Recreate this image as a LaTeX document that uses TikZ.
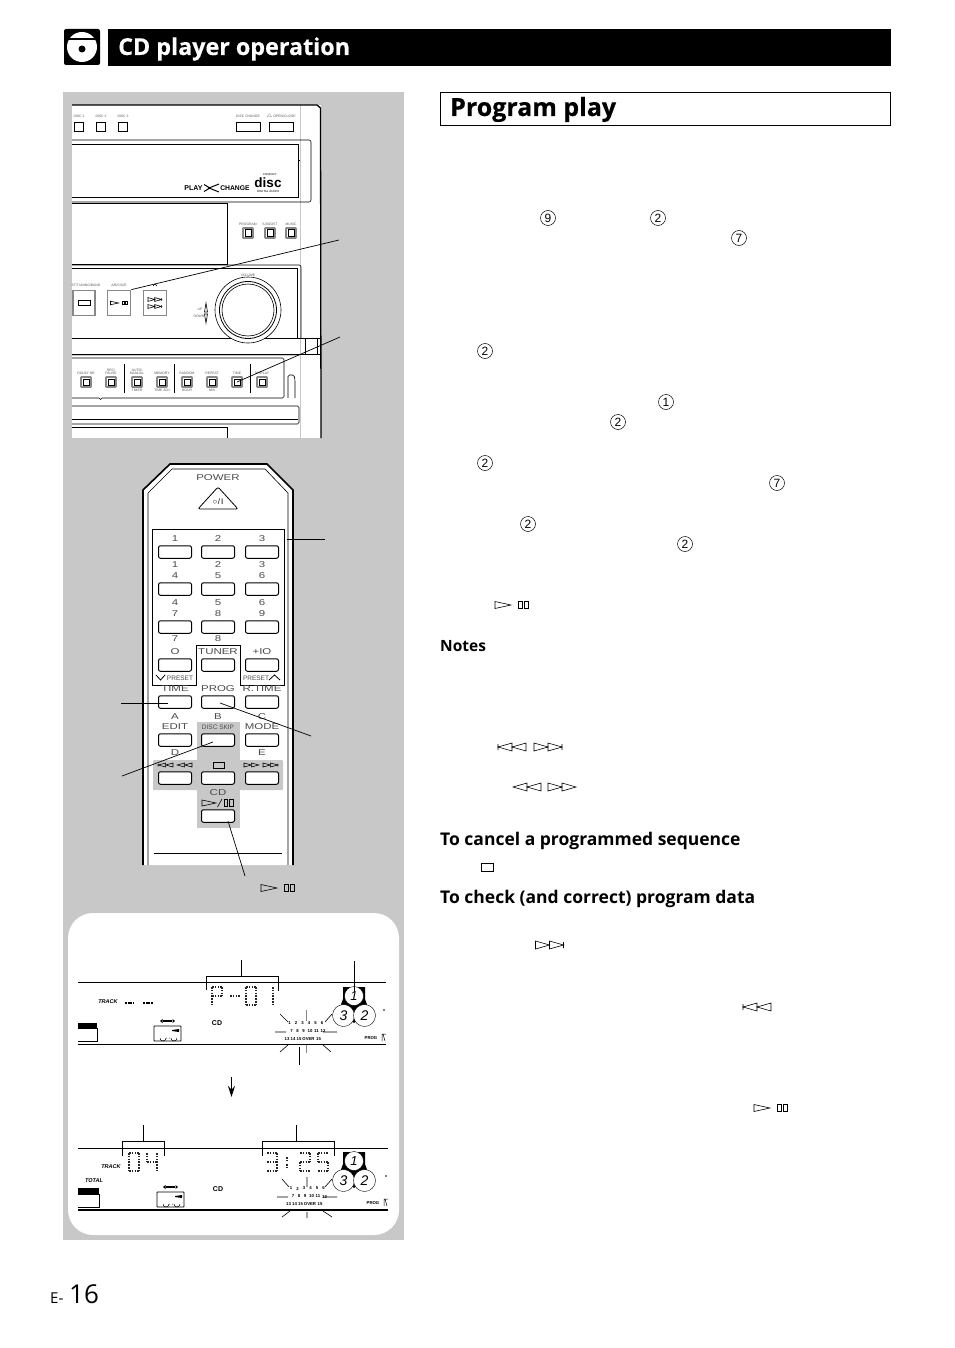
\documentclass[tikz,border=0pt]{standalone}
\usepackage{fontspec}
\setmainfont{Open Sans}
\newfontfamily\heavyfont[BoldFeatures={FakeBold=0.4}]{Open Sans}
\newfontfamily\panelfont[FakeStretch=1.35]{Liberation Sans}
\newfontfamily\plainfont{Liberation Sans}
\usetikzlibrary{shapes.geometric, arrows.meta, positioning}
\definecolor{cPanel}{RGB}{200,200,200}
\definecolor{cEdge}{RGB}{135,135,135}
\definecolor{cLabel}{RGB}{90,90,90}
\newcommand{\pxfont}[1]{\fontsize{#1}{#1}\selectfont}
\tikzset{
	x=1pt, y=-1pt,
	headtext/.style ={anchor=base west, font=\heavyfont\bfseries\pxfont{25}, inner sep=0pt},
	subhead/.style  ={anchor=base west, font=\bfseries\pxfont{17.5}, inner sep=0pt},
	numcirc/.style  ={circle, draw=black, line width=0.5pt, minimum size=15pt, inner sep=0pt, font=\plainfont\pxfont{12}},
	symline/.style  ={line width=0.6pt, draw=black},
	leader/.style   ={line width=0.7pt, draw=black},
	hairline/.style ={line width=0.6pt, draw=black},
	devlab/.style   ={font=\plainfont\pxfont{3.4}, text=cLabel, inner sep=0pt, align=center},
	remlab/.style   ={font=\panelfont\pxfont{8.5}, text=black!70, inner sep=0pt},
	remsmall/.style ={font=\plainfont\pxfont{6.5}, text=black!70, inner sep=0pt},
	disptext/.style ={font=\plainfont\bfseries\pxfont{4.3}, inner sep=0pt},
	trackword/.style={font=\plainfont\bfseries\itshape\pxfont{5.5}, inner sep=0pt},
	remkey/.style   ={rectangle, rounded corners=2pt, draw=black, line width=1pt, fill=white, minimum width=33pt, minimum height=12.5pt, inner sep=0pt},
	devkey/.style   ={rectangle, draw=cEdge, line width=1.6pt, fill=white, minimum width=10pt, minimum height=10pt, inner sep=0pt, rounded corners=0.5pt},
	devcore/.style  ={rectangle, draw=black, line width=0.5pt, minimum width=6.5pt, minimum height=6.5pt, inner sep=0pt},
	dotline/.style  ={line width=1.5pt, dash pattern=on 1.5pt off 1.3pt, draw=black!85},
	playsym/.pic={
		\draw[symline] (0,-3.5) -- (16,0) -- (0,3.5) -- cycle;
		\draw[symline] (23,-3.5) rectangle (27,3.5) (29,-3.5) rectangle (33,3.5);
	},
	fwdsym/.pic={
		\draw[symline] (0,-4) -- (14,0) -- (0,4) -- cycle (14,-4) -- (28,0) -- (14,4) -- cycle;
	},
	skipsym/.pic={
		\draw[symline] (0,-4) -- (14,0) -- (0,4) -- cycle (14,-4) -- (28,0) -- (14,4) -- cycle (28,-3) -- (28,3);
	},
	cassette/.pic={
		\draw[line width=0.8pt, draw=black, rounded corners=0.5pt] (0,0) rectangle (27,15);
		\draw[line width=0.5pt] (6,12) arc (180:0:3) (15,12) -- (16,12) (12,12) -- (13,12);
		\draw[line width=0.5pt] (17,12) arc (180:0:3);
		\fill (18,4) -- (25,3) -- (25,6) -- (18,5) -- cycle;
		\draw[line width=0.6pt] (9,-5.5) -- (18,-5.5) (9,-4.5) -- (18,-4.5);
		\fill (6,-5) -- (8.5,-7) -- (8.5,-3) -- cycle (21,-5) -- (18.5,-7) -- (18.5,-3) -- cycle;
	},
	discstack/.pic={
		\fill (-11,-9) -- (11,-9) -- (11,3) -- (15,14) -- (0,27) -- (-15,14) -- (-11,3) -- cycle;
		\node[circle, draw=black, fill=white, minimum size=19pt, inner sep=0pt, font=\plainfont\itshape\pxfont{13}] (-top) at (0,0) {1};
		\node[circle, draw=black, fill=white, minimum size=22pt, inner sep=0pt, font=\plainfont\itshape\pxfont{14}] (-lft) at (-10.5,19.5) {3};
		\node[circle, draw=black, fill=white, minimum size=22pt, inner sep=0pt, font=\plainfont\itshape\pxfont{14}] (-rgt) at (10.5,19.5) {2};
	},
	trackgrid/.pic={
		\foreach \nm/\xx/\yy/\lab in {a/0/0/1,b/6.5/0/2,c/13/0/3,d/19.5/0/4,e/26/0/5,f/32.5/0/6,
			g/2/8/7,h/8/8/8,i/14/8/9,j/20.5/8/10,k/27/8/11,l/33.5/8/12,
			m/-2.5/16/13,n/3.5/16/14,o/9.5/16/15,p/19/16/OVER,q/29/16/15}
			\node[disptext] (-\nm) at (\xx,\yy) {\lab};
	},
}
\newcommand{\dotglyph}[3]{%
	\begin{scope}[shift={(#1,#2)}]
		\path (0,0) coordinate (tl) (10,0) coordinate (tr) (0,9) coordinate (ml) (10,9) coordinate (mr) (0,18) coordinate (bl) (10,18) coordinate (br);
		\foreach \sa/\sb in {#3} { \draw[dotline] (\sa) -- (\sb); }
	\end{scope}}

\begin{document}
\begin{tikzpicture}
	\useasboundingbox (0,0) rectangle (954,1348);
	\fill[white] (0,0) rectangle (954,1348);

	% page header
	\fill[black, rounded corners=2pt] (64,29) rectangle (100,65);
	\fill[white] (82,47) circle (15);
	\draw[line width=1.2pt] (67,39) -- (97,39);
	\fill[black] (82,49) circle (3.5);
	\fill[black] (108,29) rectangle (891,66);
	\node[headtext, text=white, font=\heavyfont\bfseries\pxfont{23.3}] (hdCd) at (118,55) {CD player operation};

	% section title
	\draw[line width=0.8pt] (440.5,92.5) rectangle (890.5,125);
	\node[headtext] (hdProg) at (450,116) {Program play};

	% grey panel
	\fill[cPanel] (63,92) rectangle (404,1240);

	% main unit
	\fill[white] (72,105) rectangle (321,438);
	\draw[cPanel, line width=1.2pt] (300.5,105) -- (300.5,438);
	\draw[line width=1.3pt] (72,105) -- (317,105) -- (320.5,108) -- (321,438);
	\foreach \nm/\xx/\lab in {a/79/DISC 1,b/101/DISC 2,c/123/DISC 3}
		\node[devlab] (dl\nm) at (\xx,116) {\lab};
	\foreach \nm/\xx in {a/79,b/101,c/123} {
		\node[rectangle, draw=black, fill=white, line width=0.7pt, minimum size=9pt, inner sep=0pt] (dk\nm) at (\xx,127) {};
	}
	\node[rectangle, draw=black, line width=0.7pt, minimum width=24pt, minimum height=9pt] (dkChange) at (248,127) {};
	\node[rectangle, draw=black, line width=0.7pt, minimum width=24pt, minimum height=9pt] (dkOpen) at (281,127) {};
	\node[devlab] (dlChange) at (248,116) {DISC CHANGE};
	\node[devlab] (dlOpen) at (281,116) {$\triangle$ OPEN/CLOSE};
	% disc tray
	\draw[line width=0.6pt, rounded corners=2pt] (72,140) -- (311,140) -- (311,202) -- (72,202);
	\draw[line width=1pt] (72,145) -- (298,145) -- (298,198) -- (72,198);
	\draw[line width=0.6pt] (298,160) -- (300,160);
	\node[font=\plainfont\bfseries\pxfont{7}, inner sep=0pt] (logoPlay) at (193.5,188) {PLAY};
	\draw[line width=1pt] (204,184.5) -- (210,188) -- (204,191.5) (219,184) -- (209,188) -- (219,192);
	\node[font=\plainfont\bfseries\pxfont{6.8}, inner sep=0pt] (logoChange) at (235,188) {CHANGE};
	\node[font=\plainfont\bfseries\pxfont{13.5}, inner sep=0pt] (logoDisc) at (268,183) {disc};
	\node[font=\plainfont\pxfont{2.8}, inner sep=0pt] (logoTop) at (270,175) {COMPACT};
	\node[font=\plainfont\pxfont{3}, inner sep=0pt] (logoBot) at (268,191.5) {DIGITAL AUDIO};
	% display window
	\draw[line width=1pt] (72,204) -- (227,204) -- (227,264) -- (72,264);
	\foreach \nm/\xx/\lab in {a/248/PROGRAM,b/270/S.BOOST,c/291/MUSIC} {
		\node[devlab] (pl\nm) at (\xx,224) {\lab};
		\node[devkey] (pk\nm) at (\xx,233) {};
		\node[devcore] (pc\nm) at (pk\nm.center) {};
	}
	% control panel
	\draw[line width=0.6pt, rounded corners=2pt] (72,265) -- (301,265) -- (301,338);
	\draw[line width=1pt] (72,268) -- (297,268) -- (297,338) (72,338) -- (301,338);
	\node[rectangle, draw=cEdge, line width=1.8pt, fill=white, minimum width=22pt, minimum height=25pt, inner sep=0pt] (kStop) at (84,303) {};
	\draw[symline] (78,300.5) rectangle (90,305.5);
	\node[rectangle, draw=cEdge, line width=1.8pt, fill=white, minimum width=23pt, minimum height=25pt, inner sep=0pt] (kPlay) at (119,303) {};
	\pic[scale=0.5] at (110.5,303) {playsym};
	\node[rectangle, draw=cEdge, line width=1.8pt, fill=white, minimum width=23pt, minimum height=25pt, inner sep=0pt] (kSkip) at (155,303) {};
	\pic[scale=0.48] at (148,299.5) {skipsym};
	\pic[scale=0.48] at (148,306.5) {skipsym};
	\node[devlab] (lStop) at (86,285) {ST/TUNING/BAND};
	\node[devlab] (lPlay) at (119,285) {A/B/C/D/E};
	\draw[line width=0.5pt] (153,286) -- (155,284) -- (157,286);
	\node[devlab] (lVol) at (248,275.5) {VOLUME};
	\node[devlab] (lUp) at (200,309) {UP};
	\node[devlab] (lDn) at (199,316) {DOWN};
	\draw[symline] (206,303) -- (204.5,312) -- (207.5,312) -- cycle (206,323) -- (204.5,314) -- (207.5,314) -- cycle;
	\fill[white] (248,310) circle (33);
	\draw[line width=0.6pt] (248,310) circle (33);
	\draw[line width=0.8pt] (248,310) circle (28.5);
	\draw[line width=0.6pt] (248,310) circle (26);
	% tape band
	\draw[line width=0.7pt] (281,338) -- (320,338) (72,354) -- (320,354);
	\draw[cPanel, line width=1pt] (72,355.5) -- (300,355.5);
	\draw[line width=0.6pt] (305,338) -- (305,354) (317,338) -- (317,354);
	% lower buttons
	\draw[line width=0.6pt, rounded corners=1.5pt] (72,358) -- (284,358) -- (284,398) -- (102,398) (72,398) -- (99,398);
	\draw[line width=0.6pt] (99,398) arc (180:0:1.5);
	\foreach \nm/\xx/\lab in {a/86/DOLBY NR,b/111/{REC/\\PAUSE},c/137/{AUTO/\\MANUAL},d/162/MEMORY,e/187/RANDOM,f/212/REPEAT,g/237/TIME,h/262/DISPLAY} {
		\node[devlab, anchor=south] (ll\nm) at (\xx,375) {\lab};
		\node[devkey] (lk\nm) at (\xx,382) {};
		\node[devcore] (lc\nm) at (lk\nm.center) {};
	}
	\foreach \nm/\xx/\lab in {a/137/TIMER,b/162/TIME ADJ,c/187/HOUR,d/212/MIN}
		\node[devlab] (ls\nm) at (\xx,390) {\lab};
	\draw[line width=0.7pt] (124,364) -- (124,393) (174,364) -- (174,393) (250,364) -- (250,393);
	\draw[line width=0.6pt, rounded corners=1.5pt] (288,398) -- (288,375) -- (294,375) -- (295,380) -- (295,398);
	% cd drawer
	\draw[line width=0.6pt, rounded corners=1.5pt] (72,406) -- (299,406) -- (299,424) -- (72,424);
	\draw[line width=1.4pt] (72,419.5) -- (298,419.5);
	\draw[line width=0.9pt] (72,427) -- (227,427) -- (227,438);
	% leaders of the unit
	\coordinate (ldA) at (339,240);
	\coordinate (ldB) at (340,337);
	\draw[leader] (kPlay.north east) -- (ldA);
	\draw[leader] (lkg.center) -- (ldB);

	% remote control
	\filldraw[fill=white, line width=1.6pt] (143,865) -- (143,490) -- (170,464) -- (267,464) -- (293,490) -- (293,865);
	\draw[line width=0.6pt] (148,865) -- (148,493) -- (172,469) -- (265,469) -- (288,493) -- (288,865);
	\fill[cPanel] (197,722) rectangle (240,828);
	\fill[cPanel, rounded corners=1pt] (153,760) rectangle (283,790);
	\node[remlab] (rPower) at (218,478) {POWER};
	\draw[line width=0.8pt, rounded corners=2pt] (198,509) -- (218,487) -- (238,509) -- cycle;
	\node[font=\plainfont\pxfont{8}, inner sep=0pt] (rPowerSym) at (218,502) {\char"25CB\hspace{0.5pt}/\hspace{1pt}I};
	\draw[line width=1pt] (152.5,529.5) -- (284.5,529.5) -- (284.5,685) -- (240.5,685) -- (240.5,645.5) -- (196.5,645.5) -- (196.5,685) -- (152.5,685) -- cycle;
	\foreach \nm/\xx in {a/175,b/218,c/262} {
		\foreach \rw/\yy in {1/552,2/589,3/627,4/665,5/702,6/740,7/778}
			\node[remkey] (k\nm\rw) at (\xx,\yy) {};
	}
	\node[remkey] (kCd) at (218,816) {};
	\foreach \nm/\xx/\yy/\lab in {n1/175/539/1,n2/218/539/2,n3/262/539/3,m1/175/565/1,m2/218/565/2,m3/262/565/3,
		n4/175/576/4,n5/218/576/5,n6/262/576/6,m4/175/603/4,m5/218/603/5,m6/262/603/6,
		n7/175/614/7,n8/218/614/8,n9/262/614/9,m7/175/639/7,m8/218/639/8,
		n0/175/652/O,nT/218/652/TUNER,nP/262/652/+IO,
		tTi/175/689/TIME,tPr/218/689/PROG,tRt/262/689/R.TIME,
		lA/175/717/A,lB/218/717/B,lC/262/717/C,
		tEd/175/727/EDIT,tMo/262/727/MODE,lD/175/753/D,lE/262/753/E,tCd/218/793/CD}
		\node[remlab] (r\nm) at (\xx,\yy) {\lab};
	\node[remsmall] (rDisc) at (218,727) {DISC SKIP};
	\node[remsmall] (rPreL) at (180,678) {PRESET};
	\node[remsmall] (rPreR) at (256,678) {PRESET};
	\draw[line width=0.8pt] (156,675) -- (160.5,680) -- (165,675) (269,680) -- (274.5,675) -- (280,680);
	\pic[xscale=-0.53, yscale=0.5] at (173,765) {skipsym};
	\pic[xscale=-0.53, yscale=0.5] at (192,765) {fwdsym};
	\draw[symline] (213.5,762) rectangle (224,768);
	\pic[xscale=0.53, yscale=0.5] at (244,765) {fwdsym};
	\pic[xscale=0.53, yscale=0.5] at (263,765) {skipsym};
	\draw[symline] (202,800) -- (216,803) -- (202,806) -- cycle;
	\draw[line width=0.6pt] (217.5,807) -- (222,799);
	\draw[symline] (224,799.5) rectangle (227.5,806.5) (229.5,799.5) rectangle (233,806.5);
	\draw[hairline] (154,853) -- (282,853);
	% leaders of the remote
	\coordinate (ldC) at (325,539);
	\coordinate (ldD) at (121,703);
	\coordinate (ldE) at (311,736);
	\coordinate (ldF) at (122,776);
	\coordinate (ldG) at (245,876);
	\coordinate (tipC) at (287,539);
	\coordinate (tipD) at (168,703);
	\coordinate (tipE) at (220,703);
	\coordinate (tipF) at (213,742);
	\coordinate (tipG) at (228,821);
	\draw[leader] (tipC) -- (ldC);
	\draw[leader] (ldD) -- (tipD);
	\draw[leader] (tipE) -- (ldE);
	\draw[leader] (ldF) -- (tipF);
	\draw[leader] (tipG) -- (ldG);
	\pic at (261,888) {playsym};

	% display panel
	\fill[white, rounded corners=25pt] (68,913) rectangle (399,1235);
	% first display
	\draw[hairline] (78,982) -- (386,982) (78,1044) -- (386,1044);
	\draw[hairline] (206,990) -- (206,976) -- (278,976) -- (278,991);
	\coordinate (tpA) at (241,976);
	\coordinate (upA) at (241,960);
	\draw[hairline] (tpA) -- (upA);
	\coordinate (upB) at (354,961);
	\coordinate (dnB) at (354,992);
	\dotglyph{212}{987}{tl/tr,tr/mr,ml/mr,tl/bl}
	\draw[dotline] (230,996) -- (240,996);
	\dotglyph{246}{987}{tl/tr,tr/br,bl/br,tl/bl}
	\dotglyph{263}{987}{tr/br}
	\pic (discA) at (354,996) {discstack};
	\draw[hairline] (upB) -- (dnB);
	\node[trackword] (wTrack) at (108,1002) {TRACK};
	\draw[line width=1.6pt, dash pattern=on 2pt off 0.7pt] (125,1003) -- (134,1003) (143,1003) -- (153,1003);
	\fill[black] (78,1023) rectangle (97,1028);
	\draw[line width=0.7pt] (78,1028) -- (97,1028) -- (97,1041) -- (78,1041);
	\pic at (154,1026) {cassette};
	\node[disptext, font=\plainfont\bfseries\pxfont{7}] (wCdA) at (217,1023) {CD};
	\pic (gridA) at (289.5,1023) {trackgrid};
	\draw[hairline] (280,1014) -- (288,1022) (332,1014) -- (325,1022) (275,1032) -- (286,1032) (323,1032) -- (337,1032);
	\draw[hairline] (280,1052) -- (289,1044) (331,1052) -- (322,1044);
	\draw[cEdge, line width=0.9pt] (306,1010) -- (306,1021) (306,1045) -- (306,1053);
	\draw[hairline] (299,1047) -- (299,1065);
	\node[disptext] (wProgA) at (371,1038) {PROG};
	\draw[line width=0.5pt] (382,1041) -- (382,1034) -- (386,1034) (383,1034) -- (385,1041);
	\fill (384,1010) circle (0.8);
	% arrow between the displays
	\coordinate (arA) at (231.5,1077);
	\coordinate (arB) at (231.5,1097);
	\draw[-{Stealth[length=11pt, width=7pt]}, line width=1.6pt] (arA) -- (arB);
	% second display
	\draw[hairline] (78,1148) -- (388,1148);
	\draw[line width=1.6pt] (78,1210) -- (388,1210);
	\draw[hairline] (122,1156) -- (122,1141) -- (164,1141) -- (164,1156);
	\draw[hairline] (262,1156) -- (262,1141) -- (334,1141) -- (334,1156);
	\coordinate (upC) at (143,1125);
	\coordinate (upD) at (296,1125);
	\draw[hairline] (upC) -- (143,1141) (upD) -- (296,1141);
	\dotglyph{129}{1153}{tl/tr,tr/br,bl/br,tl/bl}
	\dotglyph{147}{1153}{tl/ml,ml/mr,tr/br}
	\dotglyph{267}{1153}{tl/tr,tr/br,ml/mr,bl/br}
	\draw[dotline] (287,1157) -- (287,1161) (287,1164) -- (287,1168);
	\dotglyph{300}{1153}{tl/tr,tr/mr,ml/mr,ml/bl,bl/br}
	\dotglyph{318}{1153}{tl/tr,tl/ml,ml/mr,mr/br,bl/br}
	\pic (discB) at (354,1161) {discstack};
	\node[trackword] (wTrackB) at (111,1167) {TRACK};
	\node[trackword] (wTotal) at (94,1181) {TOTAL};
	\fill[black] (78,1188) rectangle (99,1194);
	\draw[line width=0.7pt] (78,1194) -- (99,1194) -- (99,1207) -- (78,1207);
	\pic at (157,1192) {cassette};
	\node[disptext, font=\plainfont\bfseries\pxfont{7}] (wCdB) at (218,1189) {CD};
	\pic (gridB) at (291,1188.5) {trackgrid};
	\draw[hairline] (282,1179) -- (289,1187) (332,1179) -- (325,1187) (277,1197) -- (288,1197) (323,1197) -- (337,1197);
	\draw[hairline] (282,1217) -- (290,1211) (332,1217) -- (323,1211) (307,1177) -- (307,1187) (307,1212) -- (307,1218);
	\node[disptext] (wProgB) at (373,1203) {PROG};
	\draw[line width=0.5pt] (384,1206) -- (384,1199) -- (388,1199) (385,1199) -- (387,1206);
	\fill (386,1176) circle (0.8);

	% text column
	\foreach \nm/\xx/\yy/\lab in {a/548/218/9,b/658/218/2,c/739/238/7,d/485/351/2,e/666/402/1,f/618/422/2,g/485/463/2,h/777/483/7,i/528/524/2,j/685/544/2}
		\node[numcirc] (num\nm) at (\xx,\yy) {\lab};
	\pic at (495,605) {playsym};
	\node[subhead, font=\bfseries\pxfont{15.5}] (hdNotes) at (440,651) {Notes};
	\pic[xscale=-1] at (526,747) {skipsym};
	\pic at (534,747) {skipsym};
	\pic[xscale=-1] at (541,787) {fwdsym};
	\pic at (548,787) {fwdsym};
	\node[subhead] (hdCancel) at (440,845) {To cancel a programmed sequence};
	\draw[symline] (481.5,863) rectangle (493,871);
	\node[subhead] (hdCheck) at (440,903) {To check (and correct) program data};
	\pic at (535.5,945) {skipsym};
	\pic[xscale=-1] at (771,1007) {skipsym};
	\pic at (754,1108) {playsym};

	% page number
	\node[anchor=base west, font=\pxfont{15}, inner sep=0pt] (pgE) at (50,1303) {E-};
	\node[anchor=base west, font=\pxfont{26}, inner sep=0pt] (pgNo) at (69,1303) {16};
\end{tikzpicture}
\end{document}
